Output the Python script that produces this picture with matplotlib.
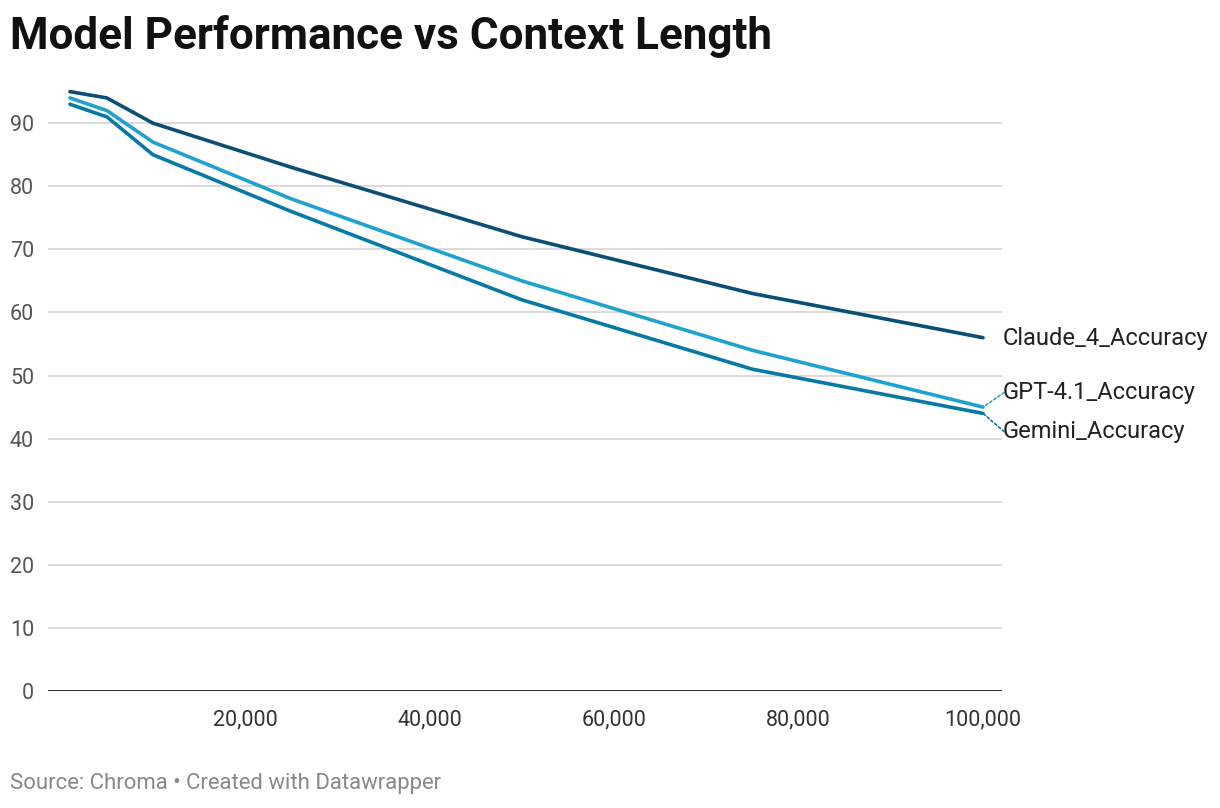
import matplotlib.pyplot as plt

plt.rcParams['font.family'] = ['Roboto', 'DejaVu Sans']

context = [1000, 5000, 10000, 25000, 50000, 75000, 100000]
claude = [95, 94, 90, 83, 72, 63, 56]
gpt41 = [94, 92, 87, 78, 65, 54, 45]
gemini = [93, 91, 85, 76, 62, 51, 44]

series = [
    ("Claude_4_Accuracy", claude, "#0b4f77", 55.8),
    ("GPT-4.1_Accuracy", gpt41, "#1ea3d1", 47.3),
    ("Gemini_Accuracy", gemini, "#0679a6", 41.1),
]

W, H = 1220, 808
fig = plt.figure(figsize=(W / 100, H / 100), dpi=100)
ax = fig.add_axes([48 / W, 117 / H, (1002 - 48) / W, 612 / H])

for name, vals, col, ylab in series:
    ax.plot(context, vals, color=col, lw=2.6, solid_capstyle='round', solid_joinstyle='round', zorder=3)
    ax.annotate(name, xy=(context[-1], vals[-1]), xytext=(1003 / W, (H - (691 - ylab * 6.31)) / H),
                textcoords='figure fraction', va='center', ha='left', fontsize=17, color='#222222',
                annotation_clip=False)
    if name != "Claude_4_Accuracy":
        ax.annotate("", xy=(context[-1], vals[-1]), xytext=(102300, ylab),
                    arrowprops=dict(arrowstyle='-', color=col, lw=1.2, linestyle=(0, (1.5, 1.5)),
                                    shrinkA=0, shrinkB=1),
                    annotation_clip=False)

ax.set_xlim(-1380, 102060)
ax.set_ylim(0, 97)
ax.set_yticks(range(0, 100, 10))
ax.set_xticks([20000, 40000, 60000, 80000, 100000])
ax.set_xticklabels([f"{v:,}" for v in [20000, 40000, 60000, 80000, 100000]])
ax.grid(axis='y', color='#d4d4d4', lw=1.2)
ax.set_axisbelow(True)
for s in ['top', 'right', 'left', 'bottom']:
    ax.spines[s].set_visible(False)
ax.axhline(0, color='#1a1a1a', lw=2, zorder=4)
ax.tick_params(axis='y', length=0, pad=10, labelsize=15.5, labelcolor='#555555')
ax.tick_params(axis='x', length=0, pad=13, labelsize=15.5, labelcolor='#333333')

fig.text(10 / W, 1 - 37 / H, "Model Performance vs Context Length", fontsize=31.7, fontweight='bold',
         va='center', ha='left', color='#111111')
fig.text(10 / W, 1 - 784 / H, "Source: Chroma \u2022 Created with Datawrapper", fontsize=15.9,
         va='center', ha='left', color='#888888')

fig.savefig('out.png', dpi=100)
